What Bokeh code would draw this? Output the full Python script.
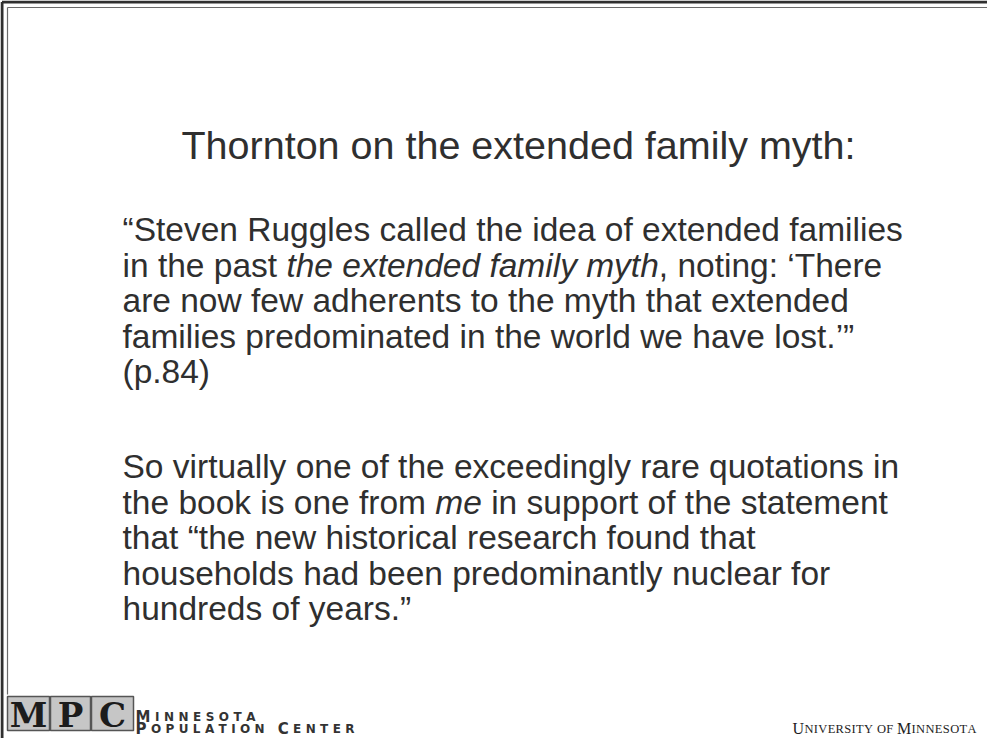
from bokeh.plotting import figure
from bokeh.models import Range1d
from bokeh.core.properties import value
from bokeh.embed import file_html
from bokeh.resources import INLINE

# ---------------- content ----------------
TITLE = "Thornton on the extended family myth:"

PARA1 = [
    [("“Steven Ruggles called the idea of extended families", "normal")],
    [("in the past ", "normal"), ("the extended family myth", "italic"), (", noting: ‘There", "normal")],
    [("are now few adherents to the myth that extended", "normal")],
    [("families predominated in the world we have lost.’”", "normal")],
    [("(p.84)", "normal")],
]
PARA2 = [
    [("So virtually one of the exceedingly rare quotations in", "normal")],
    [("the book is one from ", "normal"), ("me", "italic"), (" in support of the statement", "normal")],
    [("that “the new historical research found that", "normal")],
    [("households had been predominantly nuclear for", "normal")],
    [("hundreds of years.”", "normal")],
]
LOGO_LETTERS = ["M", "P", "C"]
LOGO_LINE1 = "Minnesota"
LOGO_LINE2 = "Population Center"
UNIVERSITY = "University of Minnesota"

# ---------------- styling / layout ----------------
W, H = 987, 738
X0, Y0 = 8, 8          # page margin -> image coordinates
TEXT_COL = "#2f2f2f"
BODY_FONT = "Liberation Sans"
BODY_SIZE = 33.5
TITLE_SIZE = 39.5
LINE_GAP = 35.5
BODY_X = 130
P1_BASE = 237
P2_BASE = 474

# Arial / Liberation Sans advance widths (1/1000 em)
AR = {' ': 278, 'a': 556, 'b': 556, 'c': 500, 'd': 556, 'e': 556, 'f': 278, 'g': 556,
      'h': 556, 'i': 222, 'j': 222, 'k': 500, 'l': 222, 'm': 833, 'n': 556, 'o': 556,
      'p': 556, 'q': 556, 'r': 333, 's': 500, 't': 278, 'u': 556, 'v': 500, 'w': 722,
      'x': 500, 'y': 500, 'z': 500, ',': 278, '.': 278, ':': 278, '‘': 222, '’': 222,
      '“': 333, '”': 333}
# DejaVu Sans Bold widths (em)
DJB = {'A': .774, 'C': .734, 'E': .683, 'I': .372, 'L': .637, 'M': .995, 'N': .837,
       'O': .850, 'P': .733, 'S': .720, 'T': .682, 'U': .812, 'R': .770, ' ': .348}
# Liberation Serif widths (em)
TM = {'U': .722, 'N': .722, 'I': .333, 'V': .722, 'E': .611, 'R': .667, 'S': .556,
      'T': .611, 'Y': .722, 'O': .722, 'F': .556, 'M': .889, 'A': .722, ' ': .25}


def text_width(s, size):
    return sum(AR.get(c, 556) for c in s) * size / 1000.0


def small_caps(text, x0, big, small, widths, target):
    chars = []
    raw = 0.0
    for c in text:
        if c == " ":
            chars.append((" ", None, widths[" "] * small))
        elif c.isupper():
            chars.append((c, "big", widths[c] * big))
        else:
            chars.append((c.upper(), "small", widths[c.upper()] * small))
        raw += chars[-1][2]
    track = (target - raw) / max(len(chars) - 1, 1)
    xb, cb, xs, cs = [], [], [], []
    x = x0
    for ch, kind, w in chars:
        if kind == "big":
            xb.append(x); cb.append(ch)
        elif kind == "small":
            xs.append(x); cs.append(ch)
        x += w + track
    return xb, cb, xs, cs


p = figure(width=W, height=H, output_backend="svg", toolbar_location=None,
           x_range=Range1d(X0, X0 + W), y_range=Range1d(Y0 + H, Y0),
           min_border=0)
p.axis.visible = False
p.grid.visible = False
p.outline_line_color = None
p.background_fill_color = "white"
p.border_fill_color = "white"

# ---- frame (double rule top and left) ----
p.line(x=[X0 + 1.5, X0 + W], y=[Y0 + 1.5, Y0 + 1.5], line_color="#303030", line_width=3)
p.line(x=[X0 + 1.5, X0 + 1.5], y=[Y0 + 1.5, Y0 + H], line_color="#303030", line_width=3)
p.line(x=[X0 + 7, X0 + W], y=[Y0 + 7, Y0 + 7], line_color="#6a6a6a", line_width=1.2)
p.line(x=[X0 + 7, X0 + 7], y=[Y0 + 7, 702], line_color="#6a6a6a", line_width=1.2)

# ---- title ----
p.text(x=[526], y=[152], text=[TITLE], text_align="center", text_baseline="alphabetic",
       text_font=value(BODY_FONT), text_font_size=value(f"{TITLE_SIZE}px"),
       text_color=TEXT_COL)

# ---- body ----
def draw_para(lines, base):
    for i, segs in enumerate(lines):
        y = base + i * LINE_GAP
        x = BODY_X
        for s, style in segs:
            lead = len(s) - len(s.lstrip(" "))
            x += text_width(" " * lead, BODY_SIZE)
            s2 = s.strip(" ")
            p.text(x=[x], y=[y], text=[s2], text_align="left", text_baseline="alphabetic",
                   text_font=value(BODY_FONT), text_font_size=value(f"{BODY_SIZE}px"),
                   text_font_style=style, text_color=TEXT_COL)
            x += text_width(s.lstrip(" "), BODY_SIZE)

draw_para(PARA1, P1_BASE)
draw_para(PARA2, P2_BASE)

# ---- MPC logo ----
box_w = [42, 40, 42]
bx = 15
lefts, rights = [], []
for w in box_w:
    lefts.append(bx); rights.append(bx + w); bx += w + 1
BOX_TOP, BOX_BOT = 704, 738
p.quad(left=lefts, right=rights, top=[BOX_TOP] * 3, bottom=[BOX_BOT] * 3,
       fill_color="#c6c6c6", line_color="#555555", line_width=1.5)
p.text(x=[(l + r) / 2 for l, r in zip(lefts, rights)], y=[(BOX_TOP + BOX_BOT) / 2 + 1] * 3,
       text=LOGO_LETTERS, text_align="center", text_baseline="middle",
       text_font=value("DejaVu Serif"), text_font_style="bold",
       text_font_size=value("34px"), text_color="#1c1c1c")

for txt, base, target in [(LOGO_LINE1, 724, 120), (LOGO_LINE2, 736, 219)]:
    xb, cb, xs, cs = small_caps(txt, 143, 15, 12, DJB, target)
    p.text(x=xb, y=[base] * len(xb), text=cb, text_baseline="alphabetic",
           text_font=value("DejaVu Sans"), text_font_size=value("15px"),
           text_font_style="bold", text_color="#333333")
    p.text(x=xs, y=[base] * len(xs), text=cs, text_baseline="alphabetic",
           text_font=value("DejaVu Sans"), text_font_size=value("12px"),
           text_font_style="bold", text_color="#333333")

# ---- University wordmark ----
xb, cb, xs, cs = small_caps(UNIVERSITY, 800, 16, 12.5, TM, 184)
p.text(x=xb, y=[736] * len(xb), text=cb, text_baseline="alphabetic",
       text_font=value("Liberation Serif"), text_font_size=value("16px"), text_color="#1e1e1e")
p.text(x=xs, y=[736] * len(xs), text=cs, text_baseline="alphabetic",
       text_font=value("Liberation Serif"), text_font_size=value("12.5px"), text_color="#1e1e1e")

open("out.html", "w").write(file_html(p, INLINE))
